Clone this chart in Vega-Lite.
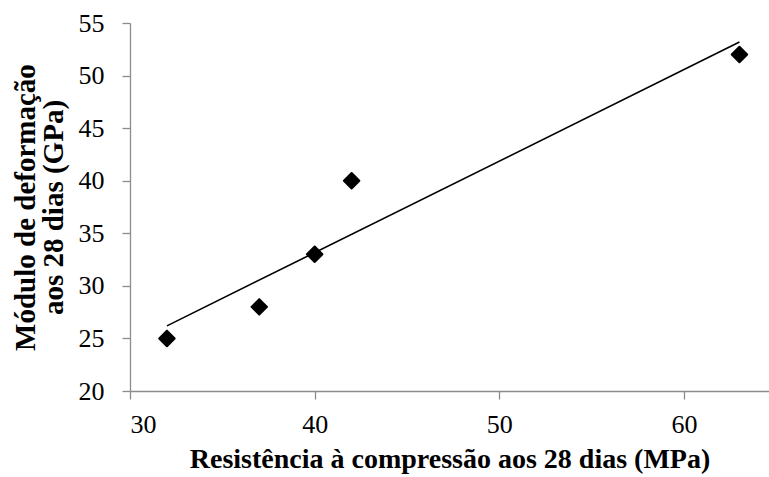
{
  "$schema": "https://vega.github.io/schema/vega-lite/v6.json",
  "width": 639,
  "height": 368,
  "autosize": {"type": "none"},
  "padding": {"left": 130, "top": 23, "right": 0, "bottom": 86},
  "background": "white",
  "config": {
    "view": {"stroke": null},
    "font": "Liberation Serif",
    "axis": {
      "labelFont": "Liberation Serif",
      "labelFontSize": 26,
      "labelColor": "black",
      "titleFont": "Liberation Serif",
      "titleFontWeight": "bold",
      "titleColor": "black",
      "domainColor": "#8c8c8c",
      "tickColor": "#8c8c8c",
      "domainWidth": 1.3,
      "tickWidth": 1.3,
      "tickSize": 8,
      "grid": false
    }
  },
  "data": {
    "values": [
      {"resistencia": 32, "modulo": 25},
      {"resistencia": 37, "modulo": 28},
      {"resistencia": 40, "modulo": 33},
      {"resistencia": 42, "modulo": 40},
      {"resistencia": 63, "modulo": 52}
    ]
  },
  "layer": [
    {
      "transform": [{"regression": "modulo", "on": "resistencia"}],
      "mark": {"type": "line", "color": "black", "strokeWidth": 1.6},
      "encoding": {
        "x": {"field": "resistencia", "type": "quantitative"},
        "y": {"field": "modulo", "type": "quantitative"}
      }
    },
    {
      "mark": {"type": "point", "shape": "diamond", "filled": true, "color": "black", "size": 240, "opacity": 1, "stroke": "black", "strokeWidth": 2, "strokeJoin": "round"},
      "encoding": {
        "x": {
          "field": "resistencia",
          "type": "quantitative",
          "scale": {"domain": [30, 64.6], "nice": false, "zero": false},
          "axis": {
            "values": [30, 40, 50, 60],
            "title": "Resistência à compressão aos 28 dias (MPa)",
            "titleFontSize": 28,
            "labelPadding": 12,
            "titlePadding": 8
          }
        },
        "y": {
          "field": "modulo",
          "type": "quantitative",
          "scale": {"domain": [20, 55], "nice": false, "zero": false},
          "axis": {
            "values": [20, 25, 30, 35, 40, 45, 50, 55],
            "title": ["Módulo de deformação", "aos 28 dias (GPa)"],
            "titleFontSize": 29,
            "titleLineHeight": 28,
            "labelPadding": 18,
            "titlePadding": 10
          }
        }
      }
    }
  ]
}
